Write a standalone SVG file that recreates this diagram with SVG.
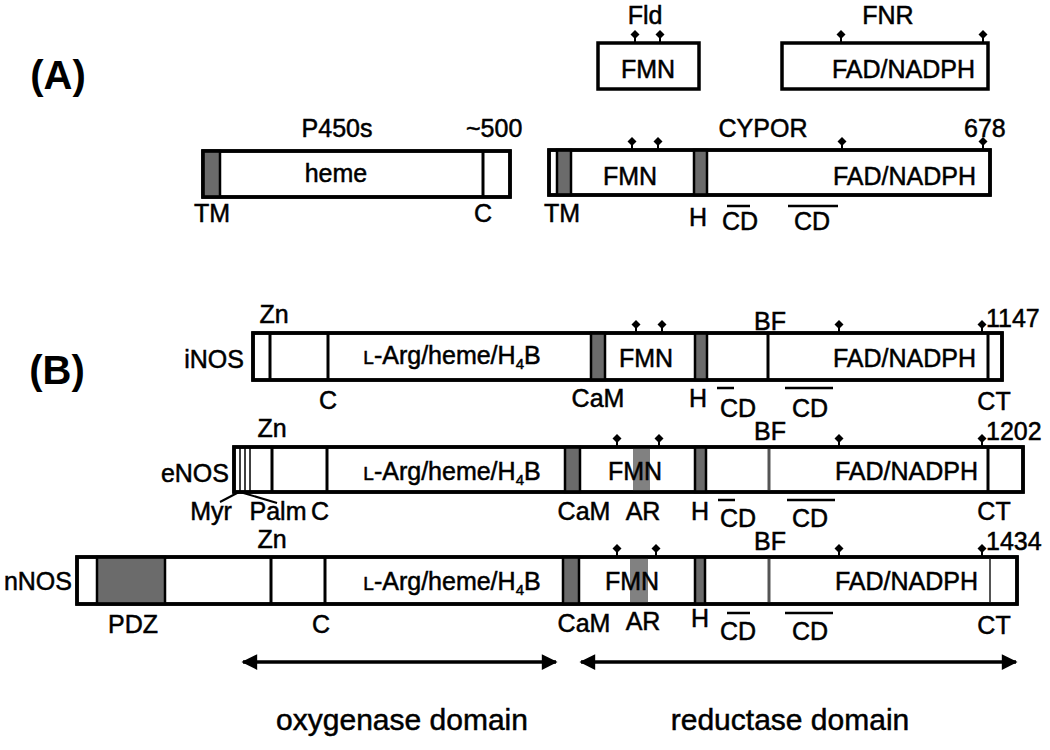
<svg xmlns="http://www.w3.org/2000/svg" width="1050" height="750" viewBox="0 0 1050 750">
<style>
.t{font-family:"Liberation Sans",Arial,sans-serif;font-size:25px;fill:#000;stroke:#000;stroke-width:0.5}
.c{text-anchor:middle}
.e{text-anchor:end}
.big{font-size:40px;font-weight:bold;stroke-width:0}
.dom{font-size:30px}
.box{fill:#fff;stroke:#000;stroke-width:3.5}
.box2{fill:none;stroke:#000;stroke-width:3.5}
.g{fill:#6b6b6b;stroke:#000;stroke-width:2.5}
.ga{fill:#6b6b6b;stroke:none;opacity:0.85}
.d{stroke:#000;stroke-width:3}
.dg{stroke:#555;stroke-width:3}
.thin{stroke:#000;stroke-width:1.5}
.ol{stroke:#000;stroke-width:2.5}
.ar{stroke:#000;stroke-width:3.5;fill:none}
</style>
<defs>
<g id="dot"><path d="M0,-13 L4.5,-8.5 L0,-4 L-4.5,-8.5 Z" fill="#000"/><line x1="0" y1="-8" x2="0" y2="0" stroke="#000" stroke-width="2"/></g>
<marker id="ah" viewBox="0 0 10 10" refX="9" refY="5" markerWidth="5.5" markerHeight="4.5" orient="auto-start-reverse" markerUnits="strokeWidth"><path d="M0,0 L10,5 L0,10 Z" fill="#000"/></marker>
</defs>

<text class="t big" x="58" y="89" text-anchor="middle">(A)</text>
<text class="t big" x="57" y="384" text-anchor="middle">(B)</text>

<g id="fld">
<rect class="box" x="598" y="43" width="101" height="46"/>
<text class="t c" x="645" y="24">Fld</text>
<text class="t c" x="648" y="78">FMN</text>
<use href="#dot" x="635" y="43"/><use href="#dot" x="660" y="43"/>
</g>

<g id="fnr">
<rect class="box" x="782" y="43" width="206" height="46"/>
<text class="t c" x="888" y="24">FNR</text>
<text class="t e" x="975" y="78">FAD/NADPH</text>
<use href="#dot" x="841" y="43"/><use href="#dot" x="983" y="43"/>
</g>

<g id="p450">
<rect class="box" x="203" y="151" width="307" height="46"/>
<rect class="g" x="203" y="151" width="17" height="46"/>
<line class="d" x1="483" y1="151" x2="483" y2="197"/>
<rect class="box2" x="203" y="151" width="307" height="46"/>
<text class="t c" x="337" y="137">P450s</text>
<text class="t" x="466" y="137">~500</text>
<text class="t c" x="336" y="182">heme</text>
<text class="t c" x="212" y="222">TM</text>
<text class="t c" x="483" y="222">C</text>
</g>

<g id="cypor">
<rect class="box" x="549" y="150" width="441" height="45"/>
<rect class="g" x="557" y="150" width="14" height="45"/>
<rect class="g" x="694" y="150" width="13" height="45"/>
<rect class="box2" x="549" y="150" width="441" height="45"/>
<use href="#dot" x="632" y="150"/><use href="#dot" x="658" y="150"/><use href="#dot" x="842" y="150"/><use href="#dot" x="983" y="150"/>
<text class="t c" x="763" y="137">CYPOR</text>
<text class="t" x="964" y="137">678</text>
<text class="t c" x="630" y="185">FMN</text>
<text class="t e" x="976" y="185">FAD/NADPH</text>
<text class="t c" x="562" y="222">TM</text>
<text class="t c" x="698" y="226">H</text>
<line class="ol" x1="727" y1="206" x2="750" y2="206"/>
<text class="t c" x="740" y="230">CD</text>
<line class="ol" x1="788" y1="206" x2="838" y2="206"/>
<text class="t c" x="812" y="230">CD</text>
</g>

<g id="inos">
<rect class="box" x="253" y="333" width="749" height="47"/>
<line class="d" x1="270" y1="333" x2="270" y2="380"/>
<line class="d" x1="328" y1="333" x2="328" y2="380"/>
<rect class="g" x="591" y="333" width="14" height="47"/>
<rect class="g" x="695" y="333" width="12" height="47"/>
<line class="d" x1="768" y1="333" x2="768" y2="380"/>
<line class="d" x1="988" y1="333" x2="988" y2="380"/>
<rect class="box2" x="253" y="333" width="749" height="47"/>
<use href="#dot" x="636" y="333"/><use href="#dot" x="662" y="333"/><use href="#dot" x="839" y="333"/><use href="#dot" x="982" y="333"/>
<text class="t e" x="244" y="368">iNOS</text>
<text class="t c" x="274" y="323">Zn</text>
<text class="t c" x="452" y="364"><tspan font-size="19">L</tspan>-Arg/heme/H<tspan font-size="15" dy="5">4</tspan><tspan dy="-5">B</tspan></text>
<text class="t c" x="646" y="367">FMN</text>
<text class="t e" x="976" y="367">FAD/NADPH</text>
<text class="t c" x="770" y="330">BF</text>
<text class="t" x="986" y="327">1147</text>
<text class="t c" x="328" y="409">C</text>
<text class="t c" x="598" y="407">CaM</text>
<text class="t c" x="698" y="407">H</text>
<line class="ol" x1="717" y1="388" x2="734" y2="388"/>
<text class="t c" x="738" y="417">CD</text>
<line class="ol" x1="785" y1="388" x2="833" y2="388"/>
<text class="t c" x="810" y="417">CD</text>
<text class="t c" x="994" y="410">CT</text>
</g>

<g id="enos">
<rect class="box" x="234" y="447" width="789" height="45"/>
<line class="thin" x1="240" y1="447" x2="240" y2="492"/>
<line class="thin" x1="245" y1="447" x2="245" y2="492"/>
<line class="thin" x1="250" y1="447" x2="250" y2="492"/>
<line class="d" x1="272" y1="447" x2="272" y2="492"/>
<line class="d" x1="327" y1="447" x2="327" y2="492"/>
<rect class="g" x="565" y="447" width="15" height="45"/>
<rect class="ga" x="633" y="447" width="17" height="45"/>
<rect class="g" x="695" y="447" width="11" height="45"/>
<line class="dg" x1="769" y1="447" x2="769" y2="492"/>
<line class="d" x1="988" y1="447" x2="988" y2="492"/>
<rect class="box2" x="234" y="447" width="789" height="45"/>
<use href="#dot" x="617" y="447"/><use href="#dot" x="659" y="447"/><use href="#dot" x="839" y="447"/><use href="#dot" x="982" y="447"/>
<text class="t e" x="229" y="482">eNOS</text>
<text class="t c" x="272" y="437">Zn</text>
<text class="t c" x="452" y="480"><tspan font-size="19">L</tspan>-Arg/heme/H<tspan font-size="15" dy="5">4</tspan><tspan dy="-5">B</tspan></text>
<text class="t c" x="635" y="480">FMN</text>
<text class="t e" x="978" y="480">FAD/NADPH</text>
<text class="t c" x="770" y="440">BF</text>
<text class="t" x="986" y="440">1202</text>
<line class="ol" x1="239" y1="492" x2="220" y2="502" style="stroke-width:2"/>
<line class="ol" x1="240" y1="492" x2="277" y2="503" style="stroke-width:2"/>
<text class="t c" x="211" y="520">Myr</text>
<text class="t c" x="278" y="520">Palm</text>
<text class="t c" x="320" y="520">C</text>
<text class="t c" x="584" y="520">CaM</text>
<text class="t c" x="643" y="520">AR</text>
<text class="t c" x="700" y="520">H</text>
<line class="ol" x1="718" y1="500" x2="735" y2="500"/>
<text class="t c" x="738" y="527">CD</text>
<line class="ol" x1="787" y1="500" x2="835" y2="500"/>
<text class="t c" x="810" y="527">CD</text>
<text class="t c" x="994" y="520">CT</text>
</g>

<g id="nnos">
<rect class="box" x="77" y="557" width="940" height="47"/>
<rect class="g" x="97" y="557" width="68" height="47"/>
<line class="d" x1="271" y1="557" x2="271" y2="604"/>
<line class="d" x1="325" y1="557" x2="325" y2="604"/>
<rect class="g" x="563" y="557" width="16" height="47"/>
<rect class="ga" x="630" y="557" width="18" height="47"/>
<rect class="g" x="695" y="557" width="10" height="47"/>
<line class="dg" x1="769" y1="557" x2="769" y2="604"/>
<line class="dg" x1="990" y1="557" x2="990" y2="604" style="stroke-width:2"/>
<rect class="box2" x="77" y="557" width="940" height="47"/>
<use href="#dot" x="617" y="557"/><use href="#dot" x="656" y="557"/><use href="#dot" x="839" y="557"/><use href="#dot" x="982" y="557"/>
<text class="t e" x="72" y="590">nNOS</text>
<text class="t c" x="272" y="548">Zn</text>
<text class="t c" x="452" y="590"><tspan font-size="19">L</tspan>-Arg/heme/H<tspan font-size="15" dy="5">4</tspan><tspan dy="-5">B</tspan></text>
<text class="t c" x="632" y="590">FMN</text>
<text class="t e" x="978" y="590">FAD/NADPH</text>
<text class="t c" x="770" y="550">BF</text>
<text class="t" x="986" y="550">1434</text>
<text class="t c" x="133" y="633">PDZ</text>
<text class="t c" x="321" y="633">C</text>
<text class="t c" x="584" y="632">CaM</text>
<text class="t c" x="643" y="630">AR</text>
<text class="t c" x="700" y="627">H</text>
<line class="ol" x1="727" y1="613" x2="750" y2="613"/>
<text class="t c" x="738" y="640">CD</text>
<line class="ol" x1="785" y1="613" x2="833" y2="613"/>
<text class="t c" x="810" y="640">CD</text>
<text class="t c" x="994" y="634">CT</text>
</g>

<g id="connectors">
<line class="ar" x1="243" y1="662" x2="556" y2="662" marker-start="url(#ah)" marker-end="url(#ah)"/>
<line class="ar" x1="581" y1="662" x2="1016" y2="662" marker-start="url(#ah)" marker-end="url(#ah)"/>
</g>
<text class="t dom c" x="402" y="730">oxygenase domain</text>
<text class="t dom c" x="790" y="730">reductase domain</text>
</svg>
